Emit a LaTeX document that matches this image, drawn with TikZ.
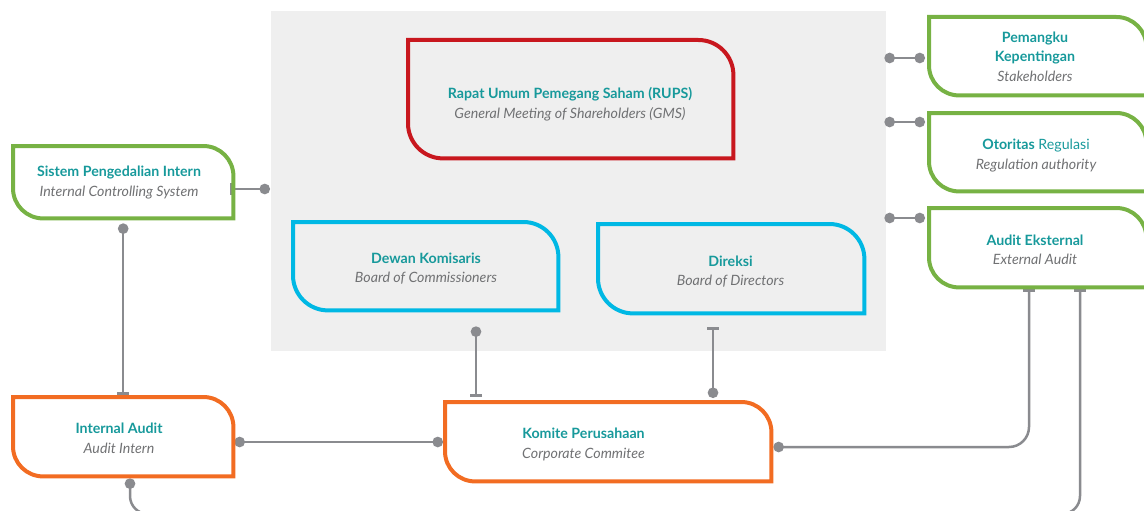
\documentclass[tikz,border=0pt]{standalone}
\usepackage{fontspec}
\setmainfont{Lato}
\usetikzlibrary{arrows.meta}
\definecolor{titleteal}{HTML}{17999B}
\definecolor{subgray}{HTML}{707173}
\definecolor{linegray}{HTML}{8A8B8F}
\definecolor{boxgreen}{HTML}{77B244}
\definecolor{boxred}{HTML}{C8171E}
\definecolor{boxblue}{HTML}{00B8E4}
\definecolor{boxorange}{HTML}{F26C22}
\definecolor{panelgray}{HTML}{EFEFEF}

% title / subtitle lines inside the boxes
\newcommand\boxtitle[1]{\textcolor{titleteal}{\bfseries #1}}
\newcommand\boxsub[1]{\textcolor{subgray}{\itshape #1}}

% border of a box: square top-left / bottom-right, rounded top-right / bottom-left
\newcommand\tabborder[3]{% node, colour, radius
  \draw[line width=4pt,#2]
    (#1.north west) -- ([xshift=-#3pt]#1.north east)
    arc[start angle=90,end angle=0,radius=#3pt] -- (#1.south east)
    -- ([xshift=#3pt]#1.south west)
    arc[start angle=270,end angle=180,radius=#3pt] -- cycle;}

\begin{document}
\begin{tikzpicture}[x=1pt,y=1pt,
  frame/.style={inner sep=0pt,anchor=north west},
  label text/.style={align=center,inner sep=0pt,font=\fontsize{14.2}{19.5}\selectfont},
  conn/.style={draw=linegray,line width=2.5pt},
  ball/.tip={Circle[length=10.5pt,width=10.5pt]},
  tee/.tip={Bar[width=12pt,line width=3pt]}]

\useasboundingbox (0,0) rectangle (1144,-511);
\clip (0,0) rectangle (1144,-511);

% governance panel
\node[frame,fill=panelgray,minimum width=615pt,minimum height=340pt] (gov) at (271,-11) {};

% box frames
\node[frame,minimum width=325pt,minimum height=118pt] (rups) at (408,-40) {};
\node[frame,minimum width=220pt,minimum height=72pt] (sis) at (13,-146) {};
\node[frame,minimum width=265pt,minimum height=88pt] (dew) at (293,-222) {};
\node[frame,minimum width=266pt,minimum height=89pt] (dir) at (598,-224) {};
\node[frame,minimum width=217pt,minimum height=78pt] (pem) at (929,-17) {};
\node[frame,minimum width=217pt,minimum height=78pt] (oto) at (929,-113) {};
\node[frame,minimum width=217pt,minimum height=79pt] (ae) at (929,-208) {};
\node[frame,minimum width=220pt,minimum height=79pt] (ia) at (13,-397) {};
\node[frame,minimum width=326pt,minimum height=79pt] (kom) at (445,-402) {};

% connectors
\draw[conn,{tee}-{ball},shorten <=-3pt,shorten >=1pt] (sis.east |- 0,-189) -- (gov.west |- 0,-189);
\draw[conn,{ball}-{tee},shorten <=5pt,shorten >=2pt] (sis.south) -- (ia.north);
\draw[conn,{ball}-{ball},shorten <=1pt,shorten >=2pt] (ia.east |- 0,-442) -- (kom.west |- 0,-442);
\draw[conn,{ball}-{tee},shorten <=2pt,shorten >=2pt,rounded corners=18pt]
  (ia.south -| 130,0) -- (130,-514) -- (1080,-514) -- (ae.south -| 1080,0);
\draw[conn,{ball}-{tee},shorten <=16pt,shorten >=5pt] (dew.south -| 476,0) -- (kom.north -| 476,0);
\draw[conn,{tee}-{ball},shorten <=14pt,shorten >=4pt] (dir.south -| 713,0) -- (kom.north -| 713,0);
\draw[conn,{ball}-{tee},shorten <=2pt,shorten >=2pt,rounded corners=20pt]
  (kom.east |- 0,-447) -- (1029,-447) -- (ae.south -| 1029,0);
\draw[conn,{ball}-{ball},shorten <=-2pt,shorten >=4pt] (gov.east |- 0,-58) -- (pem.west |- 0,-58);
\draw[conn,{ball}-{ball},shorten <=-2pt,shorten >=4pt] (gov.east |- 0,-122) -- (oto.west |- 0,-122);
\draw[conn,{ball}-{ball},shorten <=-2pt,shorten >=4pt] (gov.east |- 0,-218) -- (ae.west |- 0,-218);

% box borders
\tabborder{rups}{boxred}{35}
\tabborder{sis}{boxgreen}{30}
\tabborder{dew}{boxblue}{35}
\tabborder{dir}{boxblue}{35}
\tabborder{pem}{boxgreen}{30}
\tabborder{oto}{boxgreen}{30}
\tabborder{ae}{boxgreen}{30}
\tabborder{ia}{boxorange}{30}
\tabborder{kom}{boxorange}{30}

% box texts
\node[label text] (rupstxt) at (570,-104) {\boxtitle{Rapat Umum Pemegang Saham (RUPS)}\\\boxsub{General Meeting of Shareholders (GMS)}};
\node[label text] (sistxt) at (119,-182.5) {\boxtitle{Sistem Pengedalian Intern}\\\boxsub{Internal Controlling System}};
\node[label text] (dewtxt) at (426,-268.5) {\boxtitle{Dewan Komisaris}\\\boxsub{Board of Commissioners}};
\node[label text] (dirtxt) at (730.5,-271.5) {\boxtitle{Direksi}\\\boxsub{Board of Directors}};
\node[label text] (pemtxt) at (1035,-56.5) {\boxtitle{Pemangku}\\\boxtitle{Kepentingan}\\\boxsub{Stakeholders}};
\node[label text] (ototxt) at (1036,-155.5) {\boxtitle{Otoritas} \textcolor{titleteal}{Regulasi}\\\boxsub{Regulation authority}};
\node[label text] (aetxt) at (1035,-250) {\boxtitle{Audit Eksternal}\\\boxsub{External Audit}};
\node[label text] (iatxt) at (119,-438.5) {\boxtitle{Internal Audit}\\\boxsub{Audit Intern}};
\node[label text] (komtxt) at (583.5,-444.5) {\boxtitle{Komite Perusahaan}\\\boxsub{Corporate Commitee}};
\end{tikzpicture}
\end{document}
